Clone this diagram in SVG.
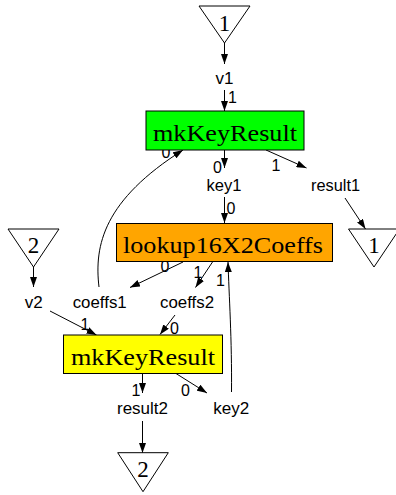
<svg xmlns="http://www.w3.org/2000/svg" width="396" height="495" viewBox="0 0 396 495">
<defs>
<marker id="ah" markerWidth="10" markerHeight="7" refX="10" refY="3.5" orient="auto" markerUnits="userSpaceOnUse"><path d="M0,0 L10,3.5 L0,7 z" fill="#000"/></marker>
<style>
.e{fill:none;stroke:#000;stroke-width:1;marker-end:url(#ah)}
.box{stroke:#000;stroke-width:1}
.tri{fill:#fff;stroke:#000;stroke-width:1}
.big{font-family:"Liberation Serif","Times New Roman",serif;font-size:23px;text-anchor:middle;fill:#000}
.sm{font-family:"Liberation Sans",Arial,sans-serif;font-size:16px;text-anchor:middle;fill:#000}
</style>
</defs>
<rect width="396" height="495" fill="#fff"/>
<g id="connectors">
<path class="e" d="M224.5,43 L224.5,64"/>
<path class="e" d="M224.5,90 L224.5,111"/>
<path class="e" d="M224.5,150 L224.5,168"/>
<path class="e" d="M266,150 L306.5,168"/>
<path class="e" d="M224.5,197 L224.5,223"/>
<path class="e" d="M345,198 L365.5,229"/>
<path class="e" d="M183,262 L130,287.5"/>
<path class="e" d="M212.5,262 L195.5,287.5"/>
<path class="e" d="M231.5,392 C232,340 229,295 228,262"/>
<path class="e" d="M50,311 L96.5,335"/>
<path class="e" d="M175,315 L160,334.5"/>
<path class="e" d="M33.5,267 L33.5,287"/>
<path class="e" d="M99,287 C94,245 104,200 183,150"/>
<path class="e" d="M142.5,373.5 L142.5,393"/>
<path class="e" d="M176,373.5 L207,393"/>
<path class="e" d="M142.5,421 L142.5,453"/>
<g id="edge-labels">
<text class="sm" x="232.5" y="103">1</text>
<text class="sm" x="166" y="158">0</text>
<text class="sm" x="217.5" y="173">0</text>
<text class="sm" x="276" y="171">1</text>
<text class="sm" x="231" y="213.5">0</text>
<text class="sm" x="165" y="271.5">0</text>
<text class="sm" x="198" y="278">1</text>
<text class="sm" x="220.5" y="285.5">1</text>
<text class="sm" x="85" y="329.5">1</text>
<text class="sm" x="174.5" y="333.5">0</text>
<text class="sm" x="136" y="395.5">1</text>
<text class="sm" x="185.5" y="395.5">0</text>
</g>
</g>
<g id="in1"><polygon class="tri" points="199,6 250,6 224.5,43"/><text class="big" x="224.5" y="31">1</text></g>
<g id="v1"><text class="sm" x="224.5" y="83.5" textLength="18" lengthAdjust="spacingAndGlyphs">v1</text></g>
<g id="mkKeyResult1"><rect class="box" x="146" y="111" width="158" height="39" fill="#00ff00"/><text class="big" x="225" y="140.7" textLength="144" lengthAdjust="spacingAndGlyphs">mkKeyResult</text></g>
<g id="key1"><text class="sm" x="224" y="190.5" textLength="35" lengthAdjust="spacingAndGlyphs">key1</text></g>
<g id="result1"><text class="sm" x="335.5" y="190.5" textLength="49" lengthAdjust="spacingAndGlyphs">result1</text></g>
<g id="lookup"><rect class="box" x="116.5" y="223.5" width="216" height="38" fill="#ffa500"/><text class="big" x="223" y="253" textLength="200" lengthAdjust="spacingAndGlyphs">lookup16X2Coeffs</text></g>
<g id="out1"><polygon class="tri" points="348.5,229 399.5,229 374,267"/><text class="big" x="374" y="253">1</text></g>
<g id="in2"><polygon class="tri" points="8,229 59,229 33.5,267"/><text class="big" x="33.5" y="253">2</text></g>
<g id="v2"><text class="sm" x="33.8" y="308" textLength="18" lengthAdjust="spacingAndGlyphs">v2</text></g>
<g id="coeffs1"><text class="sm" x="99.7" y="308" textLength="54" lengthAdjust="spacingAndGlyphs">coeffs1</text></g>
<g id="coeffs2"><text class="sm" x="187" y="308" textLength="54" lengthAdjust="spacingAndGlyphs">coeffs2</text></g>
<g id="mkKeyResult2"><rect class="box" x="63.5" y="335" width="159" height="38.5" fill="#ffff00"/><text class="big" x="143" y="365" textLength="144" lengthAdjust="spacingAndGlyphs">mkKeyResult</text></g>
<g id="result2"><text class="sm" x="142.5" y="414" textLength="51" lengthAdjust="spacingAndGlyphs">result2</text></g>
<g id="key2"><text class="sm" x="231.3" y="414" textLength="36" lengthAdjust="spacingAndGlyphs">key2</text></g>
<g id="out2"><polygon class="tri" points="117.7,452.7 168.3,452.7 143,491.7"/><text class="big" x="143" y="476.5">2</text></g>
</svg>
